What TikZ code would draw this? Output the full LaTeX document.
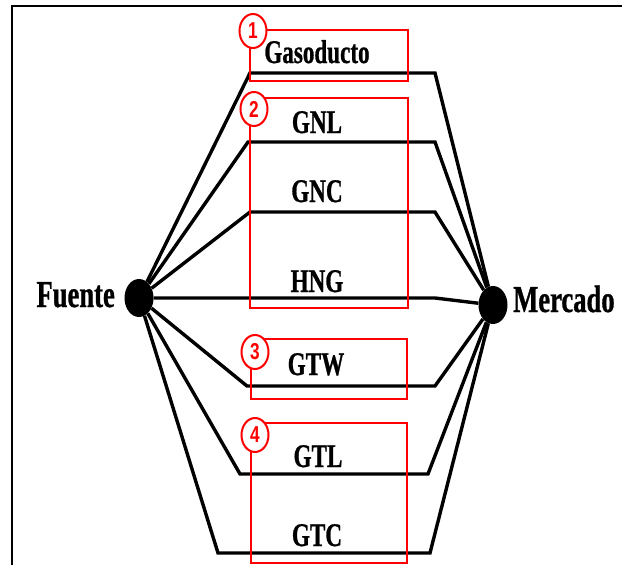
\documentclass[tikz,border=0pt]{standalone}
\usepackage{fontspec}
\setmainfont{Liberation Serif}
\newfontfamily\labelfont[FakeStretch=0.7,FakeBold=0.8]{Liberation Serif}
\newfontfamily\numfont[FakeStretch=0.75]{Liberation Sans}
\usetikzlibrary{shapes.geometric}

\begin{document}
\begin{tikzpicture}[x=1pt,y=-1pt,
  wire/.style={line width=3.4pt, line join=miter, black},
  frameline/.style={line width=2pt, black},
  hub/.style={ellipse, fill=black, inner sep=0pt, minimum width=29pt, minimum height=38pt},
  endlabel/.style={font=\labelfont\bfseries\fontsize{38}{38}\selectfont, inner sep=0pt},
  route/.style={font=\labelfont\bfseries\fontsize{33}{33}\selectfont, anchor=base, inner sep=0pt},
  group/.style={draw=red, line width=2pt},
  badge/.style={ellipse, draw=red, line width=2pt, fill=white, text=red, inner sep=0pt,
    minimum width=27pt, minimum height=34pt, font=\numfont\bfseries\fontsize{23}{23}\selectfont}]
\useasboundingbox (0,0) rectangle (622,565);

% outer frame (left and top edges)
\draw[frameline] (12,565) -- (12,6) -- (622,6);

% source and market hubs
\node[hub] (F) at (139,298) {};
\node[hub] (M) at (493,305) {};
\node[endlabel, anchor=base east] (fl) at (115,307) {Fuente};
\node[endlabel, anchor=base west] (ml) at (513,312) {Mercado};

% route corner points
\coordinate (a1) at (250,73);  \coordinate (a2) at (435,73);
\coordinate (b1) at (248,142); \coordinate (b2) at (435,142);
\coordinate (c1) at (250,212); \coordinate (c2) at (435,212);
\coordinate (d1) at (435,298);
\coordinate (e1) at (247,386); \coordinate (e2) at (435,386);
\coordinate (f1) at (240,474); \coordinate (f2) at (428,474);
\coordinate (g1) at (218,553); \coordinate (g2) at (430,553);

% transport routes
\draw[wire] (F) -- (a1) -- (a2) -- (M);
\draw[wire] (F) -- (b1) -- (b2) -- (M);
\draw[wire] (F) -- (c1) -- (c2) -- (M);
\draw[wire] (F.east) -- (d1) -- (M);
\draw[wire] (F) -- (e1) -- (e2) -- (M);
\draw[wire] (F) -- (f1) -- (f2) -- (M);
\draw[wire] (F) -- (g1) -- (g2) -- (M);

% route names
\node[route] (t1) at (317,63)  {Gasoducto};
\node[route] (t2) at (317,133) {GNL};
\node[route] (t3) at (317,202) {GNC};
\node[route] (t4) at (317,292) {HNG};
\node[route] (t5) at (316,375) {GTW};
\node[route] (t6) at (318,467) {GTL};
\node[route] (t7) at (317,546) {GTC};

% grouping boxes
\draw[group] (250,30) rectangle (408,81);
\draw[group] (250,98) rectangle (408,308);
\draw[group] (251,339) rectangle (407,399);
\draw[group] (251,423) rectangle (407,563);

% group numbers
\node[badge] (n1) at (253,31)  {1};
\node[badge] (n2) at (254,109) {2};
\node[badge] (n3) at (255,352) {3};
\node[badge] (n4) at (255,435) {4};
\end{tikzpicture}
\end{document}
